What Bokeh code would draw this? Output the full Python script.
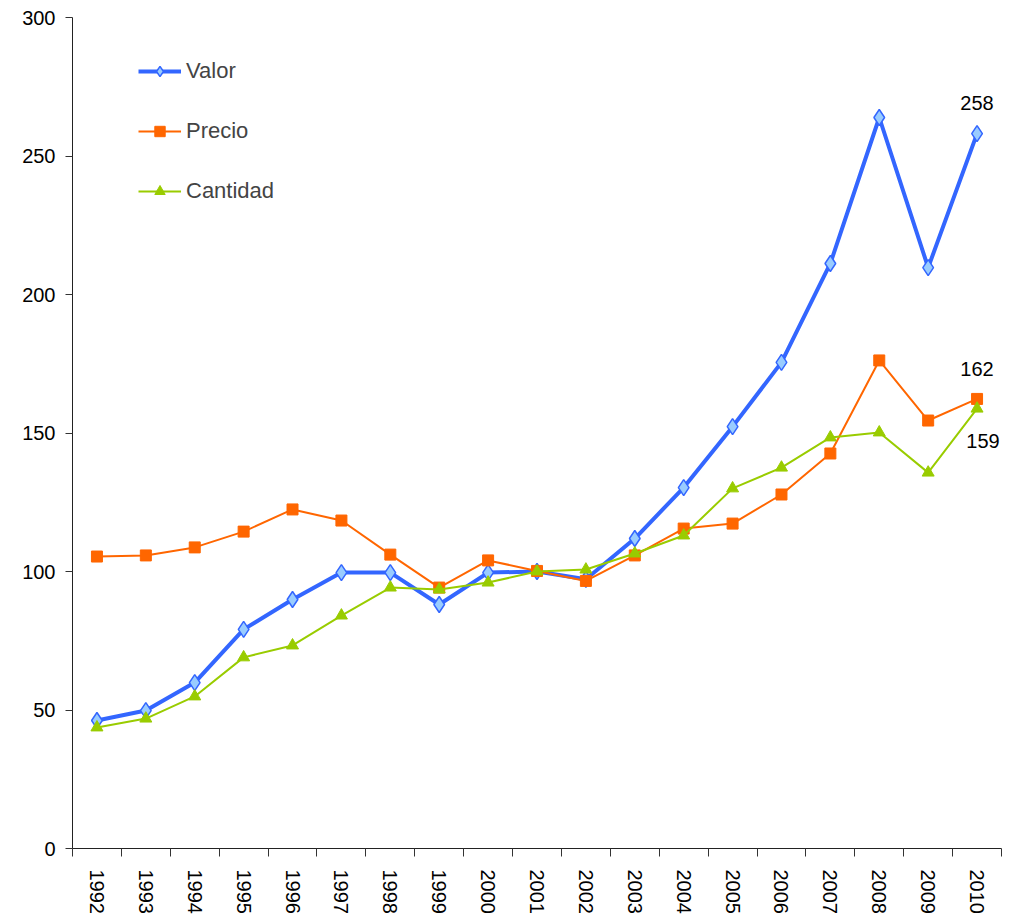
from bokeh.plotting import figure
from bokeh.models import (Range1d, FixedTicker, Legend, LegendItem, Label)
from bokeh.embed import file_html
from bokeh.resources import INLINE

years = list(range(1992, 2011))
valor = [46.2, 49.8, 59.9, 79.1, 89.9, 99.6, 99.6, 88.1, 99.6, 100.0,
         97.2, 111.9, 130.3, 152.3, 175.5, 211.2, 263.9, 209.7, 258.1]
precio = [105.4, 105.8, 108.7, 114.4, 122.4, 118.4, 106.1, 94.2, 104.0, 100.2,
          96.6, 105.8, 115.5, 117.3, 127.8, 142.6, 176.2, 154.5, 162.3]
cantidad = [43.7, 46.9, 54.9, 69.0, 73.3, 84.1, 94.2, 93.5, 96.0, 100.0,
            100.7, 106.5, 113.0, 130.0, 137.5, 148.4, 150.2, 135.7, 158.8]
y_ticks = [0, 50, 100, 150, 200, 250, 300]

FONT = "Liberation Sans"
BLUE = "#3366FF"
ORANGE = "#FF6600"
GREEN = "#99CC00"

p = figure(width=1010, height=916, output_backend="svg", toolbar_location=None,
           x_range=Range1d(years[0] - 0.5, years[-1] + 0.5),
           y_range=Range1d(0, 300),
           min_border_left=72, min_border_right=9, min_border_top=17,
           min_border_bottom=68)
p.outline_line_color = None
p.xgrid.grid_line_color = None
p.ygrid.grid_line_color = None
p.background_fill_color = "white"
p.border_fill_color = "white"

# x axis: labels at category centres, ticks at category boundaries
xa = p.xaxis[0]
xa.ticker = FixedTicker(ticks=years, minor_ticks=[y - 0.5 for y in years] + [years[-1] + 0.5])
xa.major_tick_out = 0
xa.major_tick_in = 0
xa.minor_tick_out = 8
xa.minor_tick_in = 0
xa.minor_tick_line_color = "#333333"
xa.axis_line_color = "#222222"
xa.major_label_orientation = "vertical"
xa.major_label_text_font = FONT
xa.major_label_text_font_size = "20px"
xa.major_label_text_color = "black"
xa.major_label_standoff = 13

ya = p.yaxis[0]
ya.ticker = FixedTicker(ticks=y_ticks)
ya.minor_tick_line_color = None
ya.major_tick_out = 7
ya.major_tick_in = 0
ya.major_tick_line_color = "#333333"
ya.axis_line_color = "#222222"
ya.major_label_text_font = FONT
ya.major_label_text_font_size = "20px"
ya.major_label_text_color = "black"
ya.major_label_standoff = 10

l1 = p.line(years, valor, line_color=BLUE, line_width=4)
m1 = p.scatter(years, valor, marker="diamond", size=16, fill_color="#99CCFF",
               line_color=BLUE, line_width=1.5)
l2 = p.line(years, precio, line_color=ORANGE, line_width=2)
m2 = p.scatter(years, precio, marker="square", size=11, fill_color=ORANGE,
               line_color=ORANGE)
l3 = p.line(years, cantidad, line_color=GREEN, line_width=2)
m3 = p.scatter(years, cantidad, marker="triangle", size=12, fill_color=GREEN,
               line_color=GREEN)

legend = Legend(items=[LegendItem(label="Valor", renderers=[l1, m1]),
                       LegendItem(label="Precio", renderers=[l2, m2]),
                       LegendItem(label="Cantidad", renderers=[l3, m3])],
                location=(66, 644), border_line_color=None,
                background_fill_alpha=0, padding=0, margin=0,
                glyph_width=43, glyph_height=26, label_height=26,
                spacing=34, label_standoff=5,
                label_text_font=FONT, label_text_font_size="22px")
p.add_layout(legend)

for series, off, dx in [(valor, 31, 0), (precio, 30, 0), (cantidad, -32, 6)]:
    p.add_layout(Label(x=years[-1], y=series[-1], text=str(round(series[-1])),
                       text_align="center", text_baseline="middle",
                       x_offset=dx, y_offset=off,
                       text_font=FONT, text_font_size="20px",
                       text_color="black"))

open("out.html", "w").write(file_html(p, INLINE))
